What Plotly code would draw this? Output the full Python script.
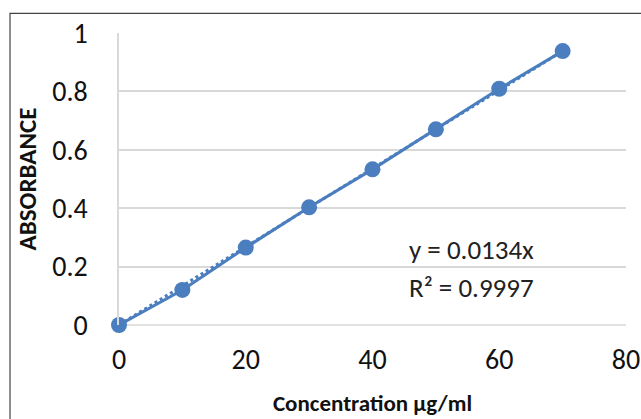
import plotly.graph_objects as go

concentration = [0, 10, 20, 30, 40, 50, 60, 70]
absorbance = [0, 0.12, 0.265, 0.403, 0.533, 0.670, 0.809, 0.938]
slope = 0.0134
trend_x = [0, 70]
trend_y = [slope * v for v in trend_x]
x_ticks = [0, 20, 40, 60, 80]
y_ticks = [0, 0.2, 0.4, 0.6, 0.8, 1]
y_tick_labels = ["0", "0.2", "0.4", "0.6", "0.8", "1"]
equation_text = "y = 0.0134x"
r2_text = "R² = 0.9997"

blue = "#4a7ebf"
font = "Carlito, Lato, 'Open Sans', sans-serif"

fig = go.Figure()
fig.add_trace(go.Scatter(x=trend_x, y=trend_y, mode="lines",
                         line=dict(color=blue, width=3, dash="dot"),
                         showlegend=False, hoverinfo="skip"))
fig.add_trace(go.Scatter(x=concentration, y=absorbance, mode="lines+markers",
                         line=dict(color=blue, width=3),
                         marker=dict(color=blue, size=16),
                         cliponaxis=False, showlegend=False))

fig.add_annotation(x=0.696, y=0.257, xref="paper", yref="paper",
                   xanchor="center", yanchor="middle",
                   text=equation_text, showarrow=False,
                   font=dict(family=font, size=27, color="#222"))
fig.add_annotation(x=0.696, y=0.130, xref="paper", yref="paper",
                   xanchor="center", yanchor="middle",
                   text=r2_text, showarrow=False,
                   font=dict(family=font, size=27, color="#222"))

fig.add_shape(type="rect", xref="paper", yref="paper",
              x0=-0.215, x1=1.1, y0=-0.4, y1=1.067,
              line=dict(color="#444", width=1.2), layer="below")

fig.update_layout(
    width=641, height=419,
    margin=dict(l=119, r=15, t=33, b=94, autoexpand=False),
    paper_bgcolor="white", plot_bgcolor="white",
    font=dict(family=font, size=28, color="#111"),
    xaxis=dict(range=[0, 80], tickvals=x_ticks, showgrid=False,
               zeroline=False, showline=False, ticks="", automargin=False,
               ticklabelstandoff=15,
               title=dict(text="<b>Concentration µg/ml</b>",
                          font=dict(size=23), standoff=18)),
    yaxis=dict(range=[0, 1], tickvals=y_ticks, ticktext=y_tick_labels,
               showgrid=True, gridcolor="#d9d9d9", gridwidth=1.5,
               zeroline=False, showline=True, linecolor="#d9d9d9", linewidth=1.5,
               ticks="", ticklabelstandoff=24, automargin=False,
               title=dict(text="<b>ABSORBANCE</b>", font=dict(size=25),
                          standoff=8)),
)
fig.add_shape(type="line", xref="paper", yref="paper", x0=0, x1=1, y0=0, y1=0,
              line=dict(color="#d9d9d9", width=1.5), layer="below")

fig.write_html("out.html", config={"displayModeBar": False},
               post_script="document.body.style.margin='0';document.body.style.overflow='hidden';")
